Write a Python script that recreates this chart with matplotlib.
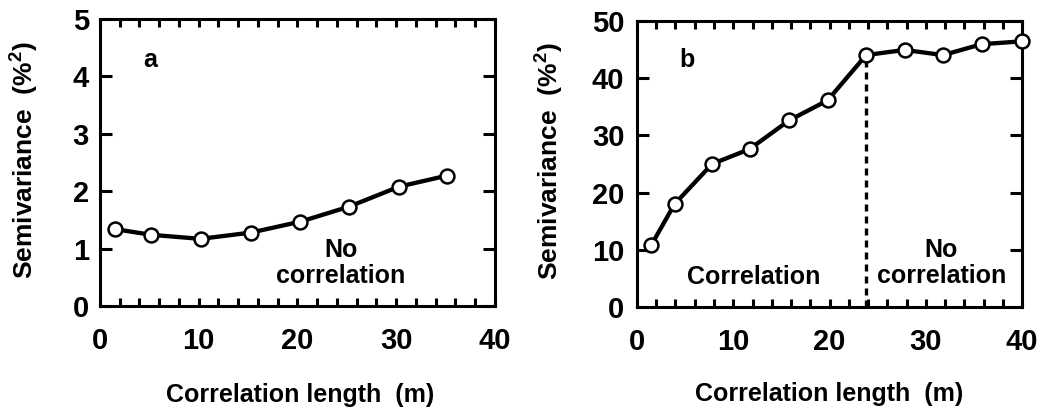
import matplotlib
matplotlib.use("Agg")
import matplotlib.pyplot as plt
from matplotlib.ticker import MultipleLocator

plt.rcParams['font.family'] = ['Liberation Sans', 'DejaVu Sans']
plt.rcParams['font.weight'] = 'bold'
plt.rcParams['mathtext.fontset'] = 'custom'
plt.rcParams['mathtext.bf'] = 'Liberation Sans:bold'
plt.rcParams['mathtext.rm'] = 'Liberation Sans:bold'

# panel a: semivariance vs lag
lag_a = [1.5, 5.2, 10.2, 15.3, 20.3, 25.2, 30.3, 35.1]
semi_a = [1.34, 1.24, 1.17, 1.28, 1.47, 1.73, 2.08, 2.27]

# panel b
lag_b = [1.5, 3.9, 7.8, 11.7, 15.8, 19.8, 23.8, 27.8, 31.8, 35.8, 40.0]
semi_b = [10.9, 18.0, 25.0, 27.6, 32.6, 36.1, 44.0, 44.9, 44.0, 45.9, 46.4]
range_b = 23.8  # correlation range marked by the dotted line

fig = plt.figure(figsize=(10.59, 4.09), dpi=100)
ax_a = fig.add_axes([0.0944, 0.2518, 0.373, 0.7017])
ax_b = fig.add_axes([0.6015, 0.2487, 0.3636, 0.7007])

FS = 18


def style(ax, ymax, ystep, ypad):
    ax.set_xlim(0, 40)
    ax.set_ylim(0, ymax)
    ax.xaxis.set_major_locator(MultipleLocator(10))
    ax.xaxis.set_minor_locator(MultipleLocator(2))
    ax.yaxis.set_major_locator(MultipleLocator(ystep))
    ax.tick_params(axis='both', which='both', direction='in', top=True, right=True,
                   width=2.2, labelsize=21)
    ax.tick_params(axis='x', which='both', length=6, pad=15)
    ax.tick_params(axis='y', which='major', length=8.5, pad=ypad)
    for s in ax.spines.values():
        s.set_linewidth(2.2)
    for lbl in ax.get_xticklabels() + ax.get_yticklabels():
        lbl.set_fontweight('bold')
    ax.set_xlabel('Correlation length  (m)', fontsize=FS, fontweight='bold')
    ax.set_ylabel(r'Semivariance  (%$^{\mathbf{2}}$)', fontsize=19, fontweight='bold')


style(ax_a, 5, 1, 8)
ax_a.plot(lag_a, semi_a, color='black', lw=3.1, marker='o', ms=10,
          mfc='white', mec='black', mew=1.8, clip_on=False, zorder=3)
ax_a.text(5.1, 4.29, 'a', fontsize=FS, fontweight='bold', ha='center', va='center')
ax_a.text(24.4, 0.75, 'No\ncorrelation', fontsize=FS, fontweight='bold',
          ha='center', va='center', linespacing=1.1)
ax_a.xaxis.set_label_coords(0.506, -0.268)
ax_a.yaxis.set_label_coords(-0.152, 0.51)

style(ax_b, 50, 10, 9)
ax_b.plot([range_b, range_b], [0, semi_b[lag_b.index(range_b)]], color='black',
          lw=2.4, linestyle=(0, (2.1, 1.5)), zorder=2)
ax_b.plot(lag_b, semi_b, color='black', lw=3.1, marker='o', ms=10,
          mfc='white', mec='black', mew=1.8, clip_on=False, zorder=3)
ax_b.text(5.15, 43.2, 'b', fontsize=FS, fontweight='bold', ha='center', va='center')
ax_b.text(12.1, 5.3, 'Correlation', fontsize=FS, fontweight='bold',
          ha='center', va='center')
ax_b.text(31.6, 7.8, 'No\ncorrelation', fontsize=FS, fontweight='bold',
          ha='center', va='center', linespacing=1.1)
ax_b.xaxis.set_label_coords(0.50, -0.261)
ax_b.yaxis.set_label_coords(-0.187, 0.51)

fig.savefig('out.png', dpi=100)
